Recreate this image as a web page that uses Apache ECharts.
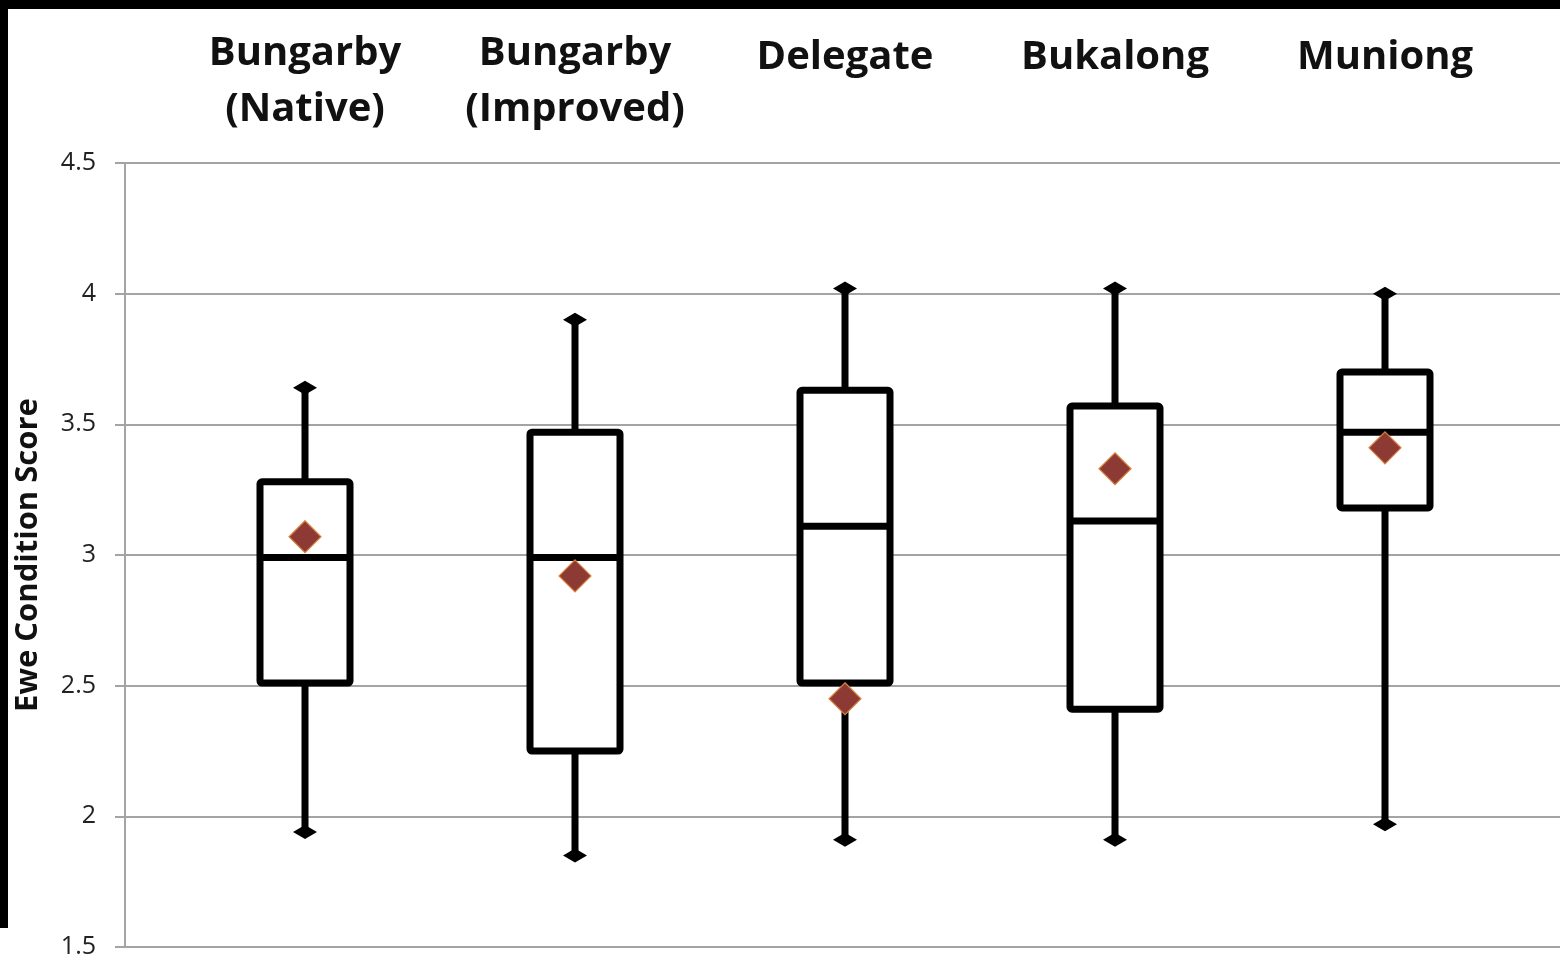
<!DOCTYPE html>
<html>
<head>
<meta charset="utf-8">
<script src="https://cdn.jsdelivr.net/npm/echarts@6/dist/echarts.min.js"></script>
<style>
html,body{margin:0;padding:0;background:#fff;}
#chart{width:1560px;height:957px;}
</style>
</head>
<body>
<div id="chart"></div>
<script>
// ---- data ----
const categories = ['Bungarby\n(Native)', 'Bungarby\n(Improved)', 'Delegate', 'Bukalong', 'Muniong'];
const mins    = [1.94, 1.85, 1.91, 1.91, 1.97];
const q1s     = [2.51, 2.25, 2.51, 2.41, 3.18];
const medians = [2.99, 2.99, 3.11, 3.13, 3.47];
const q3s     = [3.28, 3.47, 3.63, 3.57, 3.70];
const maxs    = [3.64, 3.90, 4.02, 4.02, 4.00];
const means   = [3.07, 2.92, 2.45, 3.33, 3.41];
const yTicks  = { min: 1.5, max: 4.5, interval: 0.5 };

const boxData = categories.map((c, i) => [i, mins[i], q1s[i], medians[i], q3s[i], maxs[i]]);
const meanData = categories.map((c, i) => [i, means[i]]);

const chart = echarts.init(document.getElementById('chart'), null, {renderer: 'canvas'});
const gridColor = '#a4a4a4';
const LW = 7;

function renderBox(params, api) {
  const i = api.value(0);
  const pMin = api.coord([i, api.value(1)]);
  const pQ1 = api.coord([i, api.value(2)]);
  const pMed = api.coord([i, api.value(3)]);
  const pQ3 = api.coord([i, api.value(4)]);
  const pMax = api.coord([i, api.value(5)]);
  const x = pMin[0];
  const bw = 90;
  const lineStyle = {stroke: '#000', lineWidth: LW, fill: null, lineJoin: 'round'};
  const capW = 12, capH = 7;
  function cap(y) {
    return {
      type: 'polygon',
      shape: {points: [[x - capW, y], [x, y - capH], [x + capW, y], [x, y + capH]]},
      style: {fill: '#000', stroke: null}
    };
  }
  return {
    type: 'group',
    children: [
      {type: 'line', shape: {x1: x, y1: pQ3[1], x2: x, y2: pMax[1]}, style: lineStyle},
      {type: 'line', shape: {x1: x, y1: pQ1[1], x2: x, y2: pMin[1]}, style: lineStyle},
      cap(pMax[1]),
      cap(pMin[1]),
      {type: 'rect', shape: {x: x - bw / 2, y: pQ3[1], width: bw, height: pQ1[1] - pQ3[1], r: 2},
        style: {fill: '#fff', stroke: '#000', lineWidth: LW, lineJoin: 'round'}},
      {type: 'line', shape: {x1: x - bw / 2, y1: pMed[1], x2: x + bw / 2, y2: pMed[1]}, style: lineStyle}
    ]
  };
}

const labelFont = {fontFamily: 'Open Sans', fontWeight: 'bold', fontSize: 40, lineHeight: 56, color: '#111'};

const option = {
  animation: false,
  backgroundColor: '#fff',
  grid: [
    {left: 125, right: 0, top: 163, bottom: 10, containLabel: false, outerBoundsMode: 'none'},
    {left: 170, width: 1350, top: 163, bottom: 10, containLabel: false, outerBoundsMode: 'none'}
  ],
  xAxis: [
    {gridIndex: 0, type: 'category', data: categories, show: false},
    {
      gridIndex: 1, type: 'category', data: categories, position: 'top',
      axisLine: {show: false}, axisTick: {show: false}, splitLine: {show: false},
      axisLabel: Object.assign({
        interval: 0, verticalAlign: 'top', margin: 137,
        formatter: function (v) { return v.indexOf('\n') >= 0 ? v : '{s|' + v + '}'; },
        rich: {s: Object.assign({padding: [8, 0, 0, 0]}, labelFont)}
      }, labelFont)
    }
  ],
  yAxis: [
    {
      gridIndex: 0, type: 'value', min: yTicks.min, max: yTicks.max, interval: yTicks.interval,
      name: 'Ewe Condition Score', nameLocation: 'middle', nameGap: 81,
      nameTextStyle: {fontFamily: 'Open Sans', fontWeight: 'bold', fontSize: 31, color: '#111'},
      axisLine: {show: true, lineStyle: {color: gridColor, width: 2}},
      axisTick: {show: true, length: 10, lineStyle: {color: gridColor, width: 2}},
      splitLine: {show: true, lineStyle: {color: gridColor, width: 2}},
      axisLabel: {margin: 29, fontFamily: 'Open Sans', fontSize: 25, color: '#222'}
    },
    {gridIndex: 1, type: 'value', min: yTicks.min, max: yTicks.max, interval: yTicks.interval, show: false}
  ],
  graphic: [
    {type: 'rect', left: 0, top: 0, shape: {width: 1560, height: 9}, style: {fill: '#000'}, z: 100},
    {type: 'rect', left: 0, top: 0, shape: {width: 8, height: 928}, style: {fill: '#000'}, z: 100}
  ],
  series: [
    {
      type: 'custom', xAxisIndex: 1, yAxisIndex: 1, data: boxData,
      renderItem: renderBox, encode: {x: 0, y: [1, 2, 3, 4, 5]}, z: 2
    },
    {
      type: 'scatter', xAxisIndex: 1, yAxisIndex: 1, data: meanData,
      symbol: 'diamond', symbolSize: [32, 32],
      itemStyle: {color: '#8e3a34', borderColor: '#d9823f', borderWidth: 1.2, opacity: 1}, z: 5
    }
  ]
};
chart.setOption(option);
</script>
</body>
</html>
